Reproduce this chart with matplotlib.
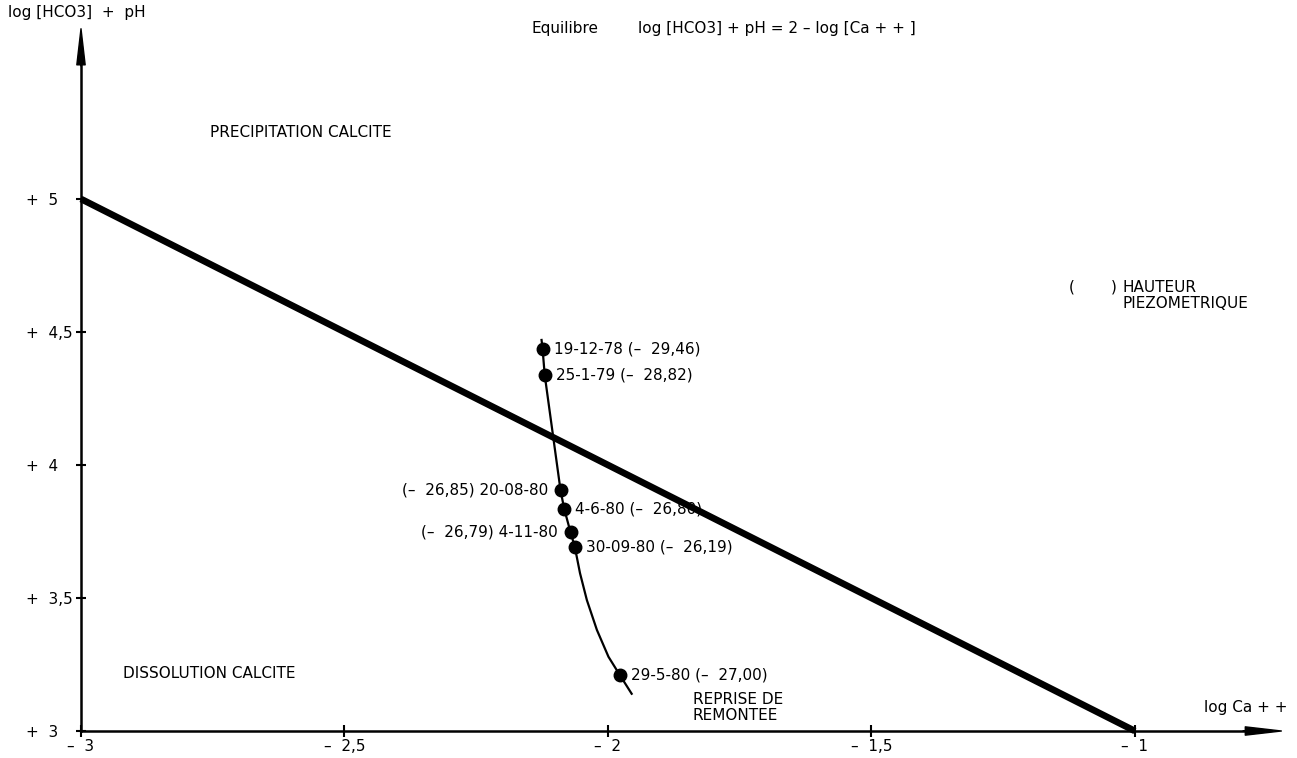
"""
Diagramme d'equilibre calcite : log [HCO3] + pH en fonction de log Ca++
"""

import numpy as np
import matplotlib
matplotlib.use("Agg")
import matplotlib.pyplot as plt

plt.rcParams['font.family'] = ['DejaVu Sans']
FS = 11

# droite d'equilibre  log[HCO3] + pH = 2 - log[Ca++]
eq_x = [-3.0, -1.0]
eq_y = [5.0, 3.0]

# prelevements : date, log Ca++, log[HCO3]+pH, hauteur piezometrique, cote du texte
dates = ["19-12-78", "25-1-79", "20-08-80", "4-6-80", "4-11-80", "30-09-80", "29-5-80"]
pt_x = [-2.124, -2.120, -2.090, -2.083, -2.071, -2.063, -1.978]
pt_y = [4.435, 4.338, 3.905, 3.835, 3.747, 3.693, 3.212]
piezo = ["29,46", "28,82", "26,85", "26,80", "26,79", "26,19", "27,00"]
side = ["r", "r", "l", "r", "l", "r", "r"]

# trace de la courbe d'evolution
curve_x = [-2.126, -2.124, -2.120, -2.090, -2.083, -2.071, -2.063, -2.053,
           -2.040, -2.021, -1.999, -1.978, -1.955]
curve_y = [4.47, 4.435, 4.338, 3.905, 3.835, 3.747, 3.693, 3.593,
           3.492, 3.380, 3.279, 3.212, 3.14]

xticks = [-3, -2.5, -2, -1.5, -1]
xlabels = ["–  3", "–  2,5", "–  2", "–  1,5", "–  1"]
yticks = [3, 3.5, 4, 4.5, 5]
ylabels = ["+  3", "+  3,5", "+  4", "+  4,5", "+  5"]

fig = plt.figure(figsize=(12.97, 7.58), dpi=100)
ax = fig.add_axes([0.06245, 0.03562, 0.93446, 0.93351])
ax.set_xlim(-3, -0.70)
ax.set_ylim(3, 5.66)

for s in ['top', 'right']:
    ax.spines[s].set_visible(False)
ax.spines['left'].set_linewidth(1.8)
ax.spines['bottom'].set_linewidth(1.8)
ax.spines['left'].set_bounds(3, 5.52)
ax.spines['bottom'].set_bounds(-3, -0.79)

# fleches des axes
ax.annotate('', xy=(-3, 5.64), xytext=(-3, 5.50),
            arrowprops=dict(width=0.1, headwidth=6, headlength=26,
                            facecolor='k', edgecolor='k'),
            annotation_clip=False)
ax.annotate('', xy=(-0.722, 3), xytext=(-0.795, 3),
            arrowprops=dict(width=0.1, headwidth=6, headlength=26,
                            facecolor='k', edgecolor='k'),
            annotation_clip=False)

ax.set_xticks(xticks, xlabels, fontsize=FS)
ax.set_yticks(yticks, ylabels, fontsize=FS)
ax.tick_params(axis='y', direction='inout', length=7, width=1.5, pad=36.0)
ax.tick_params(axis='x', direction='inout', length=9, width=1.5, pad=1)
for lab in ax.get_yticklabels():
    lab.set_horizontalalignment('left')

# droite d'equilibre
ax.plot(eq_x, eq_y, color='k', lw=4.8, solid_capstyle='butt', clip_on=False)

# courbe d'evolution et points
ax.plot(curve_x, curve_y, color='k', lw=1.6)
ax.plot(pt_x, pt_y, 'o', color='k', ms=9)

for d, x, y, h, s in zip(dates, pt_x, pt_y, piezo, side):
    if s == "r":
        ax.annotate(f"{d} (–  {h})", (x, y), xytext=(8, 0), textcoords='offset points',
                    ha='left', va='center', fontsize=FS)
    else:
        ax.annotate(f"(–  {h}) {d}", (x, y), xytext=(-9, 0), textcoords='offset points',
                    ha='right', va='center', fontsize=FS)

# textes
ax.text(-2.755, 5.248, "PRECIPITATION CALCITE", fontsize=FS, va='center')
ax.text(-2.920, 3.218, "DISSOLUTION CALCITE", fontsize=FS, va='center')
ax.text(-1.839, 3.088, "REPRISE DE\nREMONTEE", fontsize=FS, va='center', linespacing=1.1)
ax.text(-0.869, 3.09, "log Ca + +", fontsize=FS, va='center')
ax.text(-1.125, 4.669, "(", fontsize=FS, va='center')
ax.text(-1.046, 4.669, ")", fontsize=FS, va='center')
ax.text(-1.023, 4.637, "HAUTEUR\nPIEZOMETRIQUE", fontsize=FS, va='center', linespacing=1.1)

fig.text(0.006, 0.983, "log [HCO3]  +  pH", fontsize=FS, va='center')
fig.text(0.410, 0.962, "Equilibre", fontsize=FS, va='center')
fig.text(0.492, 0.962, "log [HCO3] + pH = 2 – log [Ca + + ]", fontsize=FS, va='center')

plt.savefig('out.png')
